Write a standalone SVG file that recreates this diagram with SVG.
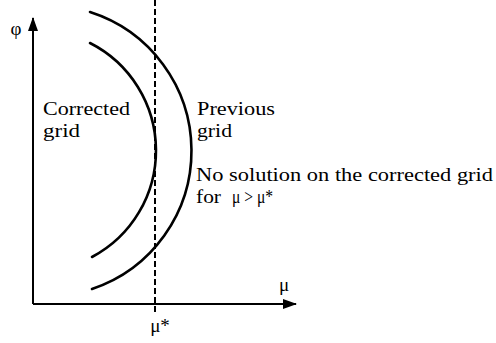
<svg xmlns="http://www.w3.org/2000/svg" width="496" height="343" viewBox="0 0 496 343">
<style>
text{font-family:'Liberation Serif','DejaVu Serif',serif;font-size:19px;fill:#000}
.ln{fill:none;stroke:#000;stroke-width:2}
.cv{fill:none;stroke:#000;stroke-width:2.6;stroke-linecap:round}
</style>
<defs>
<marker id="ah" viewBox="0 0 14 10" refX="13" refY="5" markerWidth="14" markerHeight="10" markerUnits="userSpaceOnUse" orient="auto">
<path d="M0,0 L14,5 L0,10 Z" fill="#000"/>
</marker>
</defs>
<rect width="496" height="343" fill="#fff"/>
<g id="connectors">
<path id="y-axis" class="ln" d="M33,304 L33,18" marker-end="url(#ah)"/>
<path id="x-axis" class="ln" d="M33,304 L296,304" marker-end="url(#ah)"/>
<path id="mu-star-line" class="ln" d="M155,0 L155,315" stroke-dasharray="6,3"/>
</g>
<g id="previous-grid-curve">
<path class="cv" d="M90,12 A145.7,145.7 0 0 1 92,289"/>
</g>
<g id="corrected-grid-curve">
<path class="cv" d="M90,43 A120.6,120.6 0 0 1 92,257"/>
</g>
<g id="labels" font-family="Liberation Serif, DejaVu Serif, serif">
<text x="16" y="35" text-anchor="middle">φ</text>
<text x="284" y="291" text-anchor="middle">μ</text>
<text x="160" y="332" text-anchor="middle">μ*</text>
<text x="43" y="115" textLength="87" lengthAdjust="spacingAndGlyphs">Corrected</text>
<text x="43" y="137" textLength="37" lengthAdjust="spacingAndGlyphs">grid</text>
<text x="197" y="115" textLength="78" lengthAdjust="spacingAndGlyphs">Previous</text>
<text x="197" y="137" textLength="35" lengthAdjust="spacingAndGlyphs">grid</text>
<text x="196" y="181" textLength="297" lengthAdjust="spacingAndGlyphs">No solution on the corrected grid</text>
<text x="196" y="203" textLength="25" lengthAdjust="spacingAndGlyphs">for</text>
<text x="232" y="203" textLength="41" lengthAdjust="spacingAndGlyphs">μ &gt; μ*</text>
</g>
</svg>
